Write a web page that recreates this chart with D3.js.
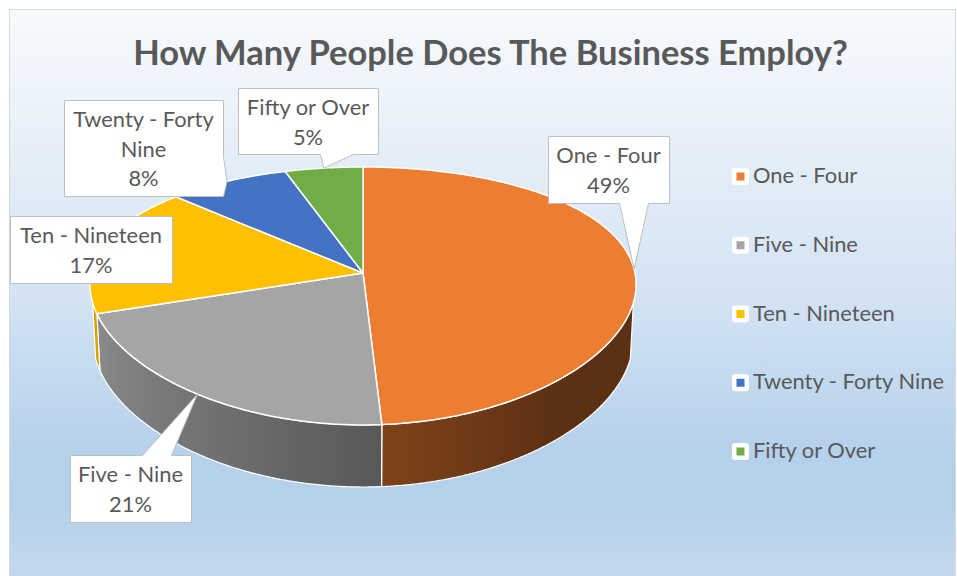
<!DOCTYPE html>
<html>
<head>
<meta charset="utf-8">
<script src="https://cdn.jsdelivr.net/npm/d3@7"></script>
<style>
  html, body { margin: 0; padding: 0; background: #ffffff; }
  svg { display: block; font-family: Lato, "Open Sans", sans-serif; }
</style>
</head>
<body>
<svg id="chart" width="957" height="576"></svg>
<script>
// ---- data ----
const title = "How Many People Does The Business Employ?";
const categories = ["One - Four", "Five - Nine", "Ten - Nineteen", "Twenty - Forty Nine", "Fifty or Over"];
const values = [49, 21, 17, 8, 5];
const colors = ["#ed7d31", "#a5a5a5", "#ffc000", "#4472c4", "#70ad47"];
// category names as wrapped inside the data callouts
const calloutNames = [["One - Four"], ["Five - Nine"], ["Ten - Nineteen"], ["Twenty - Forty", "Nine"], ["Fifty or Over"]];

// ---- layout ----
const W = 957, H = 576;
const TEXT = "#595959";
// camera: elevation sine s, distance D (in pie radii), wall height h;
// horizontal foreshortening is softened by the exponent px
const cam = { cx: 363, cy: 273, F: 268, Fx: 272, s: 0.466, D: 4.97, h: 0.235, px: 0.5 };
cam.c = Math.sqrt(1 - cam.s * cam.s);
cam.f = cam.F * cam.D;

// callout boxes [x, y, w, h] and where their pointer leaves the box
const calloutLayout = [
  { box: [548, 136, 121, 67], side: "bottom", base: [619, 648] },
  { box: [70, 455, 121, 67], side: "top", base: [142, 171] },
  { box: [10, 216, 162, 67], side: null },
  { box: [64, 100, 159, 96], side: "right", base: [157, 196] },
  { box: [238, 88, 140, 66], side: "bottom", base: [320, 353] }
];

const svg = d3.select("#chart");
const defs = svg.append("defs");

// ---- chart area background ----
const bg = defs.append("linearGradient").attr("id", "bg")
  .attr("x1", 0).attr("y1", 0).attr("x2", 0).attr("y2", 1);
[[0, "#f7fafd"], [0.5, "#d3e3f3"], [0.76, "#b6d1eb"], [0.86, "#b4d0ea"], [1, "#c6daef"]]
  .forEach(([o, col]) => bg.append("stop").attr("offset", o).attr("stop-color", col));
svg.append("rect")
  .attr("x", 9.5).attr("y", 9.5).attr("width", W - 11).attr("height", H)
  .attr("fill", "url(#bg)").attr("stroke", "#d9d9d9").attr("stroke-width", 1);

// ---- perspective projection of the pie disk ----
// theta: clockwise from 12 o'clock; Y: height (0 = top face, -h = base)
function project(theta, Y) {
  const X = Math.sin(theta), Z = -Math.cos(theta);
  const depth = cam.D - Z * cam.c - Y * cam.s;
  const yc = Y * cam.c - Z * cam.s;
  return [cam.cx + cam.Fx * X * Math.pow(cam.D / depth, cam.px), cam.cy - cam.f * yc / depth];
}
function arcPoints(a0, a1, Y) {
  const n = Math.max(2, Math.ceil(Math.abs(a1 - a0) / (Math.PI / 360)));
  return d3.range(n + 1).map(i => project(a0 + (a1 - a0) * i / n, Y));
}

const arcs = d3.pie().sort(null).value(d => d)(values);
const total = d3.sum(values);
const line = d3.line();

// the side wall faces the viewer where cos(theta) < -1/(D*c)
const frontA = Math.acos(-1 / (cam.D * cam.c));
const frontB = 2 * Math.PI - frontA;

// lighting of the side wall as it turns round the pie
const deg = Math.PI / 180;
const shade = d3.scaleLinear()
  .domain([103 * deg, 140 * deg, 176 * deg, 215 * deg, 257 * deg])
  .range([0.39, 0.39, 0.53, 0.70, 0.86])
  .clamp(true);
function tone(col, k) {
  const c = d3.rgb(col);
  return d3.rgb(c.r * k, c.g * k, c.b * k).formatHex();
}

// ---- side walls ----
const walls = svg.append("g");
arcs.forEach((a, i) => {
  const t0 = Math.max(a.startAngle, frontA), t1 = Math.min(a.endAngle, frontB);
  if (t1 <= t0) return;
  const top = arcPoints(t0, t1, 0);
  const bottom = arcPoints(t1, t0, -cam.h);
  const xs = top.map(p => p[0]);
  const xMin = d3.min(xs), xMax = d3.max(xs);
  const grad = defs.append("linearGradient").attr("id", "wall" + i)
    .attr("gradientUnits", "userSpaceOnUse")
    .attr("x1", xMin).attr("y1", 0).attr("x2", xMax).attr("y2", 0);
  const m = 24;
  d3.range(m + 1).map(j => t1 - (t1 - t0) * j / m).forEach(t => {
    const x = project(t, 0)[0];
    grad.append("stop")
      .attr("offset", xMax > xMin ? (x - xMin) / (xMax - xMin) : 0)
      .attr("stop-color", tone(colors[i], shade(t)));
  });
  walls.append("path")
    .attr("d", line(top.concat(bottom)) + "Z")
    .attr("fill", "url(#wall" + i + ")")
    .attr("stroke", "#ffffff").attr("stroke-width", 1.2)
    .attr("stroke-linejoin", "round");
});

// ---- top faces ----
const faces = svg.append("g");
arcs.forEach((a, i) => {
  const pts = [[cam.cx, cam.cy]].concat(arcPoints(a.startAngle, a.endAngle, 0));
  faces.append("path")
    .attr("d", line(pts) + "Z")
    .attr("fill", colors[i])
    .attr("stroke", "#ffffff").attr("stroke-width", 1.5)
    .attr("stroke-linejoin", "round");
});

// ---- font sizes fitted to the label widths ----
function fitSize(str, base, target, weight) {
  const t = svg.append("text").attr("font-size", base).attr("font-weight", weight).text(str);
  const w = t.node().getComputedTextLength();
  t.remove();
  return base * target / w;
}
const labelSize = fitSize("Twenty - Forty Nine", 24, 191, 400);
const titleSize = fitSize(title, 36, 715, 700);

// ---- data callouts ----
const callouts = svg.append("g");
arcs.forEach((a, i) => {
  const L = calloutLayout[i];
  const [x, y, w, h] = L.box;
  const x0 = x + 0.5, y0 = y + 0.5, x1 = x + w + 0.5, y1 = y + h + 0.5;
  const tip = project((a.startAngle + a.endAngle) / 2, 0);
  let d;
  if (L.side === "bottom") {
    d = `M${x0},${y0}H${x1}V${y1}H${L.base[1] + 0.5}L${tip[0]},${tip[1]}L${L.base[0] + 0.5},${y1}H${x0}Z`;
  } else if (L.side === "top") {
    d = `M${x0},${y0}H${L.base[0] + 0.5}L${tip[0]},${tip[1]}L${L.base[1] + 0.5},${y0}H${x1}V${y1}H${x0}Z`;
  } else if (L.side === "right") {
    d = `M${x0},${y0}H${x1}V${L.base[0] + 0.5}L${tip[0]},${tip[1]}L${x1},${Math.min(L.base[1], y + h) + 0.5}V${y1}H${x0}Z`;
  } else {
    d = `M${x0},${y0}H${x1}V${y1}H${x0}Z`;
  }
  callouts.append("path").attr("d", d)
    .attr("fill", "#ffffff").attr("stroke", "#bfbfbf").attr("stroke-width", 1);
  const lines = calloutNames[i].concat([Math.round(values[i] / total * 100) + "%"]);
  const t = callouts.append("text")
    .attr("text-anchor", "middle").attr("fill", TEXT).attr("font-size", labelSize);
  lines.forEach((s, j) => {
    t.append("tspan").attr("x", x + w / 2).attr("y", y + 27 + j * 29.5).text(s);
  });
});

// ---- legend ----
const legend = svg.append("g");
categories.forEach((name, i) => {
  const by = 183 + i * 68.75;
  legend.append("rect")
    .attr("x", 732).attr("y", by - 15).attr("width", 17).attr("height", 17).attr("rx", 3)
    .attr("fill", "#ffffff");
  legend.append("rect")
    .attr("x", 736.5).attr("y", by - 10.5).attr("width", 8).attr("height", 8)
    .attr("fill", colors[i]);
  legend.append("text")
    .attr("x", 753).attr("y", by)
    .attr("fill", TEXT).attr("font-size", labelSize)
    .text(name);
});

// ---- title ----
svg.append("text")
  .attr("x", 490.5).attr("y", 65)
  .attr("text-anchor", "middle")
  .attr("font-size", titleSize).attr("font-weight", 700)
  .attr("fill", TEXT)
  .text(title);
</script>
</body>
</html>
